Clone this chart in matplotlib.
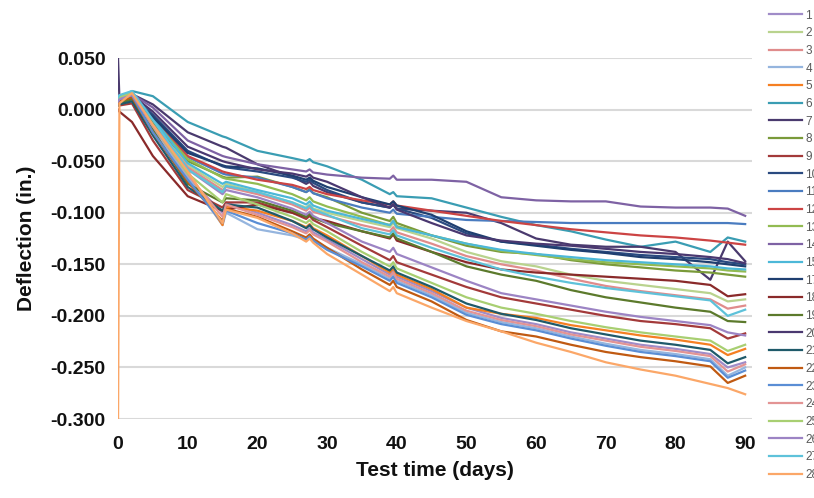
import matplotlib
matplotlib.use("Agg")
import matplotlib.pyplot as plt
from matplotlib.ticker import FuncFormatter

plt.rcParams['font.family'] = ['Liberation Sans', 'DejaVu Sans']

days = [0, 0.2, 2, 5, 10, 15, 15.5, 20, 25, 27, 27.5, 28, 30, 35, 39, 39.5, 40,
        45, 50, 55, 60, 65, 70, 75, 80, 85, 87.5, 90]

labels = ['1', '2', '3', '4', '5', '6', '7', '8', '9', '10', '11', '12', '13', '14',
          '15', '17', '18', '19', '20', '21', '22', '23', '24', '25', '26', '27', '28']

colors = ['#A08CC8', '#B9D38E', '#E08C8C', '#95B5DE', '#F57F22', '#3A9DB3', '#4A3A6E',
          '#7A9A3A', '#A33A3A', '#2A4A80', '#4A7CC0', '#CC4444', '#92BB52', '#7E62A4',
          '#4CB8D8', '#1F3F70', '#8A2A2A', '#5C7A2C', '#4A3870', '#1F5A6A', '#C05A12',
          '#5A8ED5', '#E39494', '#A8CF72', '#9C84C4', '#5EC2DA', '#FBA768']

s1 = [0.008, 0.010, 0.014, -0.018, -0.066, -0.100, -0.090, -0.100, -0.112, -0.118, -0.115, -0.119, -0.126, -0.145, -0.160, -0.156, -0.162, -0.176, -0.192, -0.202, -0.208, -0.216, -0.222, -0.228, -0.232, -0.237, -0.250, -0.245]
s2 = [0.008, 0.010, 0.014, -0.012, -0.054, -0.075, -0.072, -0.080, -0.090, -0.095, -0.092, -0.096, -0.100, -0.108, -0.114, -0.110, -0.115, -0.125, -0.138, -0.147, -0.152, -0.160, -0.166, -0.170, -0.174, -0.178, -0.186, -0.184]
s3 = [0.008, 0.010, 0.013, -0.014, -0.056, -0.078, -0.075, -0.082, -0.092, -0.098, -0.095, -0.099, -0.103, -0.112, -0.118, -0.114, -0.119, -0.130, -0.142, -0.150, -0.156, -0.164, -0.171, -0.176, -0.180, -0.184, -0.193, -0.190]
s4 = [0.010, 0.012, 0.016, -0.020, -0.065, -0.112, -0.100, -0.116, -0.122, -0.126, -0.123, -0.127, -0.134, -0.150, -0.164, -0.160, -0.166, -0.180, -0.197, -0.206, -0.212, -0.220, -0.227, -0.233, -0.237, -0.242, -0.258, -0.250]
s5 = [0.010, 0.012, 0.017, -0.012, -0.060, -0.112, -0.094, -0.098, -0.108, -0.114, -0.111, -0.115, -0.122, -0.142, -0.158, -0.154, -0.160, -0.174, -0.192, -0.198, -0.202, -0.209, -0.214, -0.219, -0.223, -0.228, -0.238, -0.232]
s6 = [0.008, 0.012, 0.018, 0.013, -0.012, -0.026, -0.027, -0.040, -0.047, -0.050, -0.048, -0.051, -0.055, -0.068, -0.082, -0.080, -0.084, -0.086, -0.095, -0.104, -0.112, -0.118, -0.126, -0.133, -0.128, -0.138, -0.124, -0.128]
s7 = [0.050, 0.010, 0.015, 0.005, -0.022, -0.036, -0.037, -0.053, -0.065, -0.072, -0.070, -0.074, -0.080, -0.090, -0.095, -0.092, -0.096, -0.098, -0.100, -0.110, -0.125, -0.131, -0.133, -0.133, -0.138, -0.165, -0.128, -0.147]
s8 = [0.006, 0.008, 0.013, -0.012, -0.050, -0.065, -0.066, -0.065, -0.075, -0.080, -0.077, -0.081, -0.085, -0.100, -0.108, -0.104, -0.110, -0.122, -0.132, -0.138, -0.140, -0.146, -0.150, -0.153, -0.156, -0.158, -0.160, -0.162]
s9 = [0.004, 0.004, 0.006, -0.030, -0.078, -0.095, -0.090, -0.090, -0.100, -0.106, -0.103, -0.107, -0.114, -0.132, -0.146, -0.142, -0.148, -0.160, -0.172, -0.182, -0.188, -0.194, -0.200, -0.205, -0.208, -0.212, -0.222, -0.217]
s10 = [0.008, 0.010, 0.014, -0.005, -0.040, -0.055, -0.056, -0.060, -0.066, -0.070, -0.068, -0.071, -0.078, -0.090, -0.095, -0.092, -0.096, -0.105, -0.120, -0.128, -0.131, -0.135, -0.138, -0.141, -0.143, -0.145, -0.148, -0.150]
s11 = [0.005, 0.008, 0.012, -0.010, -0.046, -0.062, -0.063, -0.066, -0.075, -0.080, -0.078, -0.081, -0.086, -0.095, -0.100, -0.097, -0.101, -0.104, -0.107, -0.108, -0.109, -0.110, -0.110, -0.110, -0.110, -0.110, -0.110, -0.111]
s12 = [0.007, 0.009, 0.013, -0.008, -0.045, -0.060, -0.061, -0.068, -0.073, -0.077, -0.075, -0.078, -0.082, -0.088, -0.092, -0.089, -0.093, -0.098, -0.103, -0.108, -0.112, -0.116, -0.119, -0.122, -0.124, -0.127, -0.129, -0.131]
s13 = [0.006, 0.008, 0.012, -0.010, -0.048, -0.066, -0.067, -0.072, -0.082, -0.088, -0.085, -0.089, -0.094, -0.104, -0.112, -0.108, -0.113, -0.122, -0.130, -0.137, -0.141, -0.145, -0.148, -0.150, -0.152, -0.154, -0.156, -0.157]
s14 = [0.005, 0.010, 0.015, 0.002, -0.030, -0.045, -0.046, -0.053, -0.058, -0.060, -0.058, -0.061, -0.063, -0.066, -0.067, -0.064, -0.068, -0.068, -0.070, -0.085, -0.088, -0.089, -0.089, -0.094, -0.095, -0.095, -0.096, -0.103]
s15 = [0.010, 0.012, 0.016, -0.008, -0.052, -0.072, -0.070, -0.078, -0.086, -0.092, -0.089, -0.093, -0.098, -0.106, -0.112, -0.108, -0.114, -0.122, -0.130, -0.136, -0.140, -0.143, -0.146, -0.148, -0.150, -0.152, -0.154, -0.155]
s17 = [0.006, 0.008, 0.012, -0.007, -0.042, -0.054, -0.055, -0.057, -0.064, -0.068, -0.066, -0.069, -0.075, -0.085, -0.092, -0.089, -0.093, -0.102, -0.118, -0.128, -0.132, -0.136, -0.139, -0.143, -0.145, -0.148, -0.150, -0.152]
s18 = [0.000, -0.002, -0.012, -0.045, -0.084, -0.098, -0.097, -0.092, -0.100, -0.104, -0.101, -0.105, -0.108, -0.118, -0.125, -0.121, -0.127, -0.138, -0.148, -0.155, -0.158, -0.160, -0.162, -0.164, -0.166, -0.170, -0.181, -0.179]
s19 = [0.004, 0.006, 0.010, -0.020, -0.072, -0.090, -0.086, -0.088, -0.098, -0.104, -0.101, -0.105, -0.110, -0.118, -0.124, -0.120, -0.125, -0.138, -0.152, -0.160, -0.166, -0.175, -0.182, -0.187, -0.192, -0.196, -0.205, -0.206]
s20 = [0.010, 0.012, 0.014, -0.002, -0.036, -0.050, -0.051, -0.058, -0.062, -0.065, -0.063, -0.066, -0.070, -0.085, -0.095, -0.092, -0.097, -0.110, -0.122, -0.127, -0.130, -0.132, -0.135, -0.138, -0.140, -0.143, -0.145, -0.149]
s21 = [0.004, 0.005, 0.008, -0.025, -0.075, -0.098, -0.092, -0.095, -0.108, -0.115, -0.112, -0.116, -0.124, -0.142, -0.156, -0.152, -0.158, -0.172, -0.188, -0.198, -0.204, -0.212, -0.218, -0.224, -0.228, -0.233, -0.246, -0.240]
s22 = [0.006, 0.008, 0.012, -0.022, -0.070, -0.108, -0.096, -0.104, -0.118, -0.124, -0.121, -0.125, -0.134, -0.155, -0.170, -0.166, -0.172, -0.186, -0.204, -0.215, -0.220, -0.228, -0.235, -0.240, -0.244, -0.249, -0.265, -0.258]
s23 = [0.008, 0.010, 0.014, -0.022, -0.068, -0.110, -0.098, -0.110, -0.120, -0.126, -0.123, -0.127, -0.136, -0.152, -0.166, -0.162, -0.168, -0.182, -0.199, -0.208, -0.214, -0.222, -0.229, -0.235, -0.239, -0.244, -0.260, -0.253]
s24 = [0.010, 0.012, 0.016, -0.016, -0.063, -0.104, -0.092, -0.102, -0.114, -0.120, -0.117, -0.121, -0.128, -0.148, -0.162, -0.158, -0.164, -0.178, -0.195, -0.204, -0.210, -0.218, -0.224, -0.230, -0.234, -0.239, -0.254, -0.247]
s25 = [0.010, 0.012, 0.016, -0.015, -0.062, -0.090, -0.082, -0.092, -0.104, -0.110, -0.107, -0.111, -0.118, -0.138, -0.152, -0.148, -0.154, -0.168, -0.182, -0.192, -0.198, -0.205, -0.211, -0.216, -0.220, -0.224, -0.234, -0.228]
s26 = [0.008, 0.010, 0.014, -0.015, -0.058, -0.082, -0.078, -0.085, -0.096, -0.102, -0.099, -0.103, -0.110, -0.128, -0.138, -0.134, -0.140, -0.153, -0.166, -0.178, -0.184, -0.190, -0.196, -0.201, -0.205, -0.209, -0.216, -0.219]
s27 = [0.012, 0.014, 0.018, -0.010, -0.058, -0.080, -0.074, -0.080, -0.090, -0.096, -0.093, -0.097, -0.102, -0.115, -0.121, -0.117, -0.122, -0.134, -0.145, -0.155, -0.162, -0.168, -0.173, -0.177, -0.181, -0.185, -0.200, -0.194]
s28 = [-0.310, 0.006, 0.016, -0.015, -0.060, -0.110, -0.097, -0.105, -0.120, -0.128, -0.125, -0.129, -0.140, -0.160, -0.176, -0.172, -0.178, -0.192, -0.205, -0.215, -0.226, -0.235, -0.245, -0.252, -0.258, -0.266, -0.270, -0.276]

series = [s1, s2, s3, s4, s5, s6, s7, s8, s9, s10, s11, s12, s13, s14,
          s15, s17, s18, s19, s20, s21, s22, s23, s24, s25, s26, s27, s28]

fig = plt.figure(figsize=(8.14, 4.98), dpi=100)
ax = fig.add_axes([0.145, 0.1586, 0.779, 0.7249])

for vals, lab, col in zip(series, labels, colors):
    ax.plot(days, vals, color=col, lw=1.6, label=lab, clip_on=True)

ax.set_xlim(0, 91)
ax.set_ylim(-0.300, 0.050)
ax.set_xticks([0, 10, 20, 30, 40, 50, 60, 70, 80, 90])
ax.set_yticks([0.05, 0.0, -0.05, -0.1, -0.15, -0.2, -0.25, -0.3])
ax.yaxis.set_major_formatter(FuncFormatter(lambda v, p: '{:.3f}'.format(v).replace('\u2212', '-')))
ax.grid(axis='y', color='#D9D9D9', lw=1.5)
ax.set_axisbelow(True)
for sp in ax.spines.values():
    sp.set_visible(False)
ax.tick_params(axis='both', length=0, labelsize=14, labelcolor='#111111')
ax.tick_params(axis='y', pad=9)
ax.tick_params(axis='x', pad=12)
for t in ax.get_xticklabels() + ax.get_yticklabels():
    t.set_fontweight('bold')

ax.set_xlabel('Test time (days)', fontsize=15, fontweight='bold', color='#111111', labelpad=6)
ax.set_ylabel('Deflection (in.)', fontsize=15, fontweight='bold', color='#111111', labelpad=10)

leg = fig.legend(loc='upper left', bbox_to_anchor=(0.94, 0.988), frameon=False,
                 fontsize=8.5, handlelength=2.8, handletextpad=0.3, labelspacing=0.48,
                 borderaxespad=0.0, borderpad=0.3)
for t in leg.get_texts():
    t.set_color('#595959')

fig.savefig('out.png', dpi=100)
